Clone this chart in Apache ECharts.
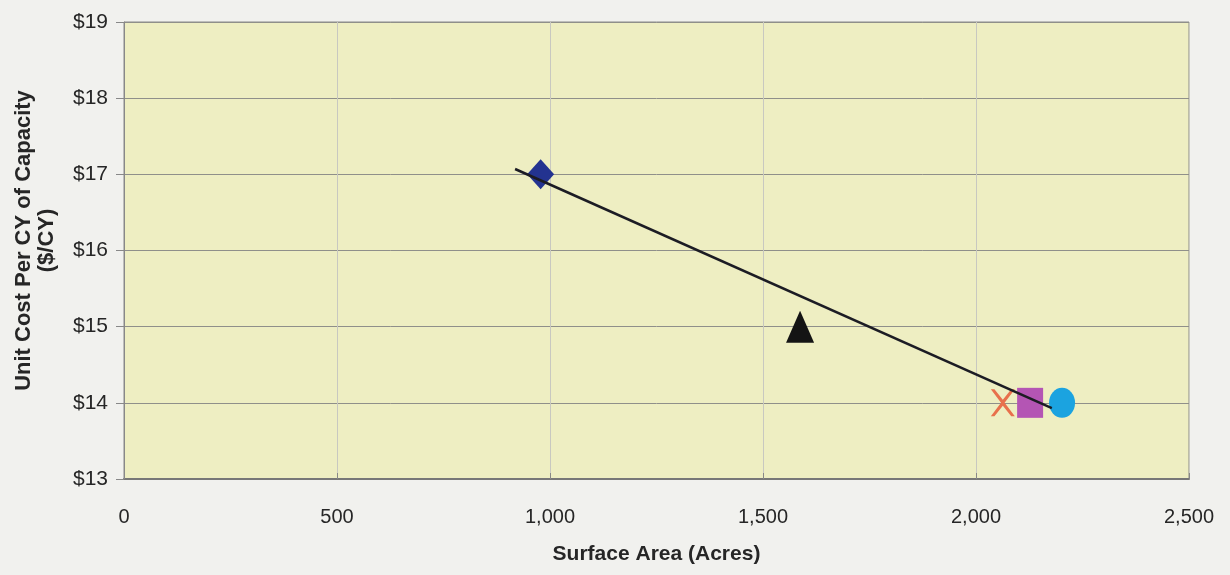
<!DOCTYPE html>
<html><head><meta charset="utf-8">
<script src="https://cdn.jsdelivr.net/npm/echarts@6/dist/echarts.min.js"></script>
<style>html,body{margin:0;padding:0;background:#f1f1ee;}#c{width:1230px;height:575px;}</style>
</head><body><div id="c"></div>
<script>
const xTicks = [0, 500, 1000, 1500, 2000, 2500];
const yTicks = [13, 14, 15, 16, 17, 18, 19];
const seriesNames = ['Diamond', 'Triangle', 'Cross', 'Square', 'Circle'];
const surfaceArea = [978, 1587, 2063, 2127, 2202];
const unitCost = [17.0, 15.0, 14.0, 14.0, 14.0];
// trend line end points
const trendX = [918, 2178];
const trendY = [17.07, 13.93];
const markerSymbols = ['diamond', 'triangle', 'x', 'rect', 'circle'];
const markerColors = ['#233390', '#141414', '#e8704c', '#b455b4', '#1ba3e0'];
const markerSizes = [[27, 30], [28, 32], [24, 27], [26, 30], [26, 30]];

const trendData = trendX.map((x, i) => [x, trendY[i]]);
const xSymbol = 'path://M0,0 L3,0 L10,7 L17,0 L20,0 L11.5,9 L20,18 L17,18 L10,11 L3,18 L0,18 L8.5,9 Z';
const FONT = '"Liberation Sans", Arial, sans-serif';

const series = seriesNames.map((nm, i) => ({
  name: nm, type: 'scatter',
  data: [[surfaceArea[i], unitCost[i]]],
  symbol: markerSymbols[i] === 'x' ? xSymbol : markerSymbols[i],
  symbolSize: markerSizes[i],
  itemStyle: { color: markerColors[i], opacity: 1 },
  z: 3
}));
series.push({
  name: 'Trend', type: 'line', data: trendData, symbol: 'none',
  lineStyle: { color: '#1c1c24', width: 2.5 }, z: 4, silent: true
});

const chart = echarts.init(document.getElementById('c'));
chart.setOption({
  animation: false,
  backgroundColor: '#f1f1ee',
  grid: { left: 124, right: 41, top: 22, bottom: 96, containLabel: false, outerBoundsMode: 'none',
    show: true, backgroundColor: '#eeeec2', borderColor: '#8a8a8a', borderWidth: 1 },
  xAxis: {
    type: 'value', min: xTicks[0], max: xTicks[xTicks.length - 1], interval: 500,
    name: 'Surface Area (Acres)', nameLocation: 'middle', nameGap: 65,
    nameTextStyle: { fontFamily: FONT, fontWeight: 'bold', fontSize: 21, color: '#262626' },
    axisLine: { show: true, lineStyle: { color: '#777', width: 2 } },
    axisTick: { show: true, inside: true, length: 6, lineStyle: { color: '#888' } },
    axisLabel: { fontFamily: FONT, fontSize: 20, color: '#262626', margin: 28,
      formatter: v => v.toLocaleString('en-US') },
    splitLine: { show: true, lineStyle: { color: '#c8c8c0', width: 1 } }
  },
  yAxis: {
    type: 'value', min: yTicks[0], max: yTicks[yTicks.length - 1], interval: 1,
    name: 'Unit Cost Per CY of Capacity\n($/CY)', nameLocation: 'middle', nameGap: 66,
    nameTextStyle: { fontFamily: FONT, fontWeight: 'bold', fontSize: 22, color: '#262626', lineHeight: 23, padding: [0, 0, 0, 20] },
    axisLine: { show: true, lineStyle: { color: '#888', width: 1 } },
    axisTick: { show: true, length: 8, lineStyle: { color: '#888' } },
    axisLabel: { fontFamily: FONT, fontSize: 21, color: '#262626', margin: 16, formatter: v => '$' + v },
    splitLine: { show: true, lineStyle: { color: '#8f8f8a', width: 1 } }
  },
  series: series
});
</script></body></html>
